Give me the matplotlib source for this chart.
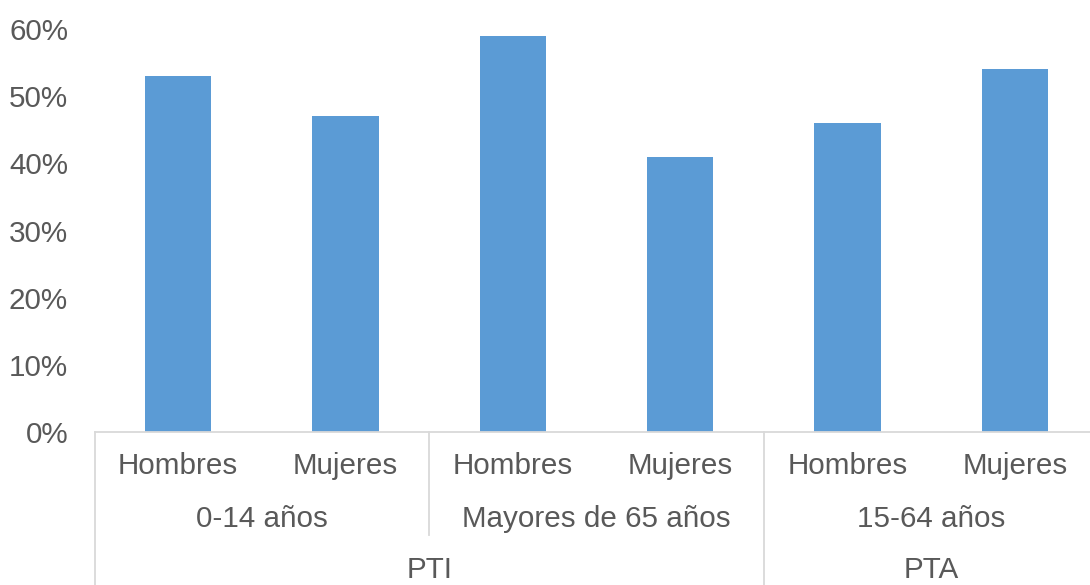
import matplotlib
import matplotlib.pyplot as plt
from matplotlib.ticker import PercentFormatter

matplotlib.use("Agg")

SEXES = ["Hombres", "Mujeres", "Hombres", "Mujeres", "Hombres", "Mujeres"]
VALUES = [0.53, 0.47, 0.59, 0.41, 0.46, 0.54]
AGE_GROUPS = ["0-14 años", "Mayores de 65 años", "15-64 años"]
TYPES = ["PTI", "PTA"]
TYPE_SPANS = [(0, 3), (4, 5)]          # first/last category index per type

BAR_COLOR = "#5B9BD5"
TEXT_COLOR = "#595959"
LINE_COLOR = "#D9D9D9"
FS = 21.3

plt.rcParams["font.family"] = ["Liberation Sans", "DejaVu Sans"]


def main():
    fig = plt.figure(figsize=(10.9, 5.85), dpi=100, facecolor="white")
    # plot area runs a little past the right edge of the canvas, as in the source
    ax = fig.add_axes([94.5 / 1090, 153 / 585, 1004 / 1090, 403 / 585])

    xs = list(range(len(VALUES)))
    ax.bar(xs, VALUES, width=0.395, color=BAR_COLOR, zorder=2)

    ax.set_xlim(-0.5, len(VALUES) - 0.5)
    ax.set_ylim(0, 0.6)
    ax.set_yticks([i / 10 for i in range(7)])
    ax.yaxis.set_major_formatter(PercentFormatter(1.0, decimals=0))
    ax.tick_params(axis="y", length=0, pad=19, labelsize=FS, labelcolor=TEXT_COLOR)
    ax.set_xticks([])

    for side in ("left", "right", "top"):
        ax.spines[side].set_visible(False)
    ax.spines["bottom"].set_color(LINE_COLOR)
    ax.spines["bottom"].set_linewidth(1.3)

    trans = ax.get_xaxis_transform()
    row1, row2, row3 = -0.084, -0.216, -0.343
    mid_end, bottom_end = -0.256, -0.385

    for x, lab in zip(xs, SEXES):
        ax.text(x, row1, lab, transform=trans, ha="center", va="center",
                fontsize=FS, color=TEXT_COLOR)

    for i, lab in enumerate(AGE_GROUPS):
        ax.text(2 * i + 0.5, row2, lab, transform=trans, ha="center", va="center",
                fontsize=FS, color=TEXT_COLOR)

    for (a, b), lab in zip(TYPE_SPANS, TYPES):
        ax.text((a + b) / 2, row3, lab, transform=trans, ha="center", va="center",
                fontsize=FS, color=TEXT_COLOR)

    # category separators below the axis
    for x in (-0.5, 3.5, 5.5):
        ax.plot([x, x], [0, bottom_end], transform=trans, color=LINE_COLOR,
                linewidth=1.3, clip_on=False)
    ax.plot([1.5, 1.5], [0, mid_end], transform=trans, color=LINE_COLOR,
            linewidth=1.3, clip_on=False)

    fig.savefig("out.png", dpi=100, facecolor="white")
    plt.close(fig)


if __name__ == "__main__":
    main()
